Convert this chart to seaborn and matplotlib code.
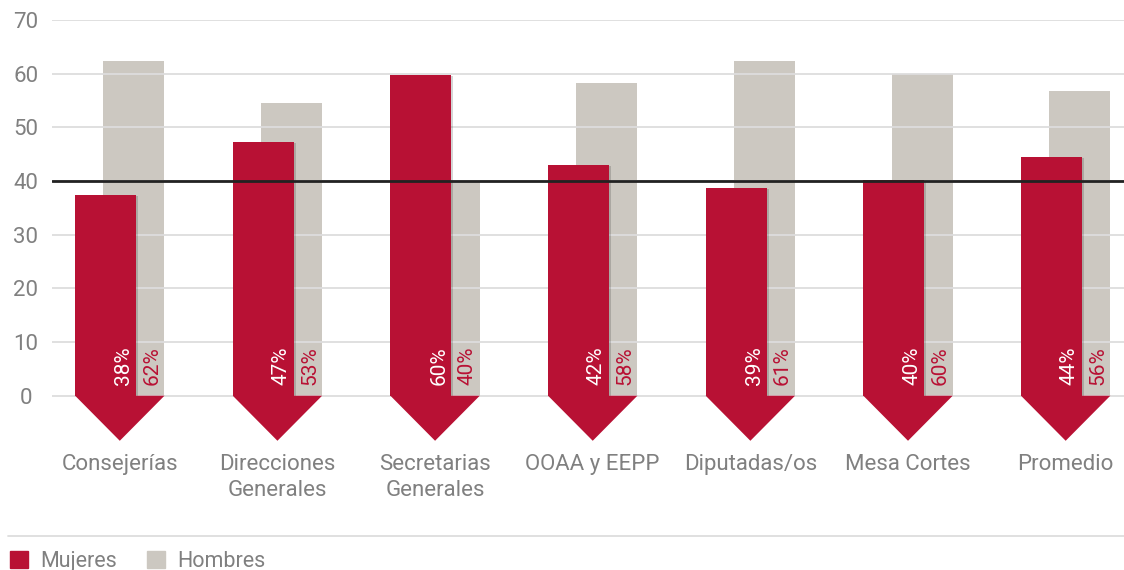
import matplotlib
matplotlib.use('Agg')
import matplotlib.pyplot as plt
import matplotlib.patheffects as pe
from matplotlib.patches import Patch
from matplotlib.lines import Line2D
import numpy as np
import seaborn as sns

# datos
categorias = ['Consejerías', 'Direcciones\nGenerales', 'Secretarias\nGenerales',
              'OOAA y EEPP', 'Diputadas/os', 'Mesa Cortes', 'Promedio']
mujeres = [37.4, 47.3, 59.8, 43.0, 38.7, 40.2, 44.5]
hombres = [62.4, 54.6, 40.0, 58.3, 62.4, 60.0, 56.8]
pct_mujeres = [38, 47, 60, 42, 39, 40, 44]
pct_hombres = [62, 53, 40, 58, 61, 60, 56]
umbral = 40

ROJO = '#b81134'
GRIS = '#ccc8c1'
TEXTO = '#808080'

sns.set_theme(style='white')
plt.rcParams['font.family'] = ['Roboto', 'DejaVu Sans']

fig = plt.figure(figsize=(11.24, 5.70), dpi=100)
ax = fig.add_axes([52 / 1124, 1 - 444 / 570, 1 - 52 / 1124, 424 / 570])

pos = np.arange(len(categorias))
ancho = 0.387
desp = 0.09

sns.barplot(x=pos + desp, y=hombres, native_scale=True, width=ancho, color=GRIS,
            saturation=1, linewidth=0, ax=ax, zorder=2)
n = len(ax.patches)
sns.barplot(x=pos - desp, y=mujeres, native_scale=True, width=ancho, color=ROJO,
            saturation=1, linewidth=0, ax=ax, zorder=3)
for p in ax.patches[n:]:
    p.set_path_effects([pe.SimplePatchShadow(offset=(1.5, -1), alpha=0.18, shadow_rgbFace='k'),
                        pe.Normal()])

# flechas bajo cada grupo
for i in pos:
    izq = i - desp - ancho / 2
    der = i + desp + ancho / 2
    ax.fill([izq, der, i], [0, 0, -8.4], color=ROJO, lw=0, zorder=3)

# porcentajes
for i in pos:
    ax.text(i - desp + ancho / 2 - 0.08, 2, f'{pct_mujeres[i]}%', rotation=90,
            ha='center', va='bottom', color='white', fontsize=15, zorder=5)
    ax.text(i + desp + ancho / 2 - 0.08, 2, f'{pct_hombres[i]}%', rotation=90,
            ha='center', va='bottom', color=ROJO, fontsize=15, zorder=5)

ax.axhline(umbral, color='#222222', lw=2, zorder=4)

ax.set_ylim(-9, 70)
ax.set_xlim(-0.43, 6.37)
ax.set_yticks(range(0, 71, 10))
ax.set_xticks(pos)
ax.set_xticklabels(categorias, linespacing=1.3)
ax.set_axisbelow(False)
ax.yaxis.grid(True, color='#dddddd', lw=1.3)
ax.xaxis.grid(False)
for s in ax.spines.values():
    s.set_visible(False)
ax.tick_params(axis='y', length=0, pad=19, labelsize=16, labelcolor=TEXTO)
ax.tick_params(axis='x', length=0, pad=7, labelsize=16, labelcolor=TEXTO)
for lab in ax.get_yticklabels():
    lab.set_ha('center')
ax.set_xlabel('')
ax.set_ylabel('')

fig.add_artist(Line2D([8 / 1124, 1], [1 - 536 / 570] * 2, transform=fig.transFigure,
                      color='#dddddd', lw=1.3))
fig.legend(handles=[Patch(color=ROJO, label='Mujeres'), Patch(color=GRIS, label='Hombres')],
           loc='lower left', bbox_to_anchor=(10 / 1124, -2 / 570), ncol=2, frameon=False,
           fontsize=15.5, labelcolor=TEXTO, handlelength=0.85, handleheight=0.85,
           handletextpad=0.55, columnspacing=1.4, borderaxespad=0, borderpad=0)

fig.savefig('out.png', dpi=100)
